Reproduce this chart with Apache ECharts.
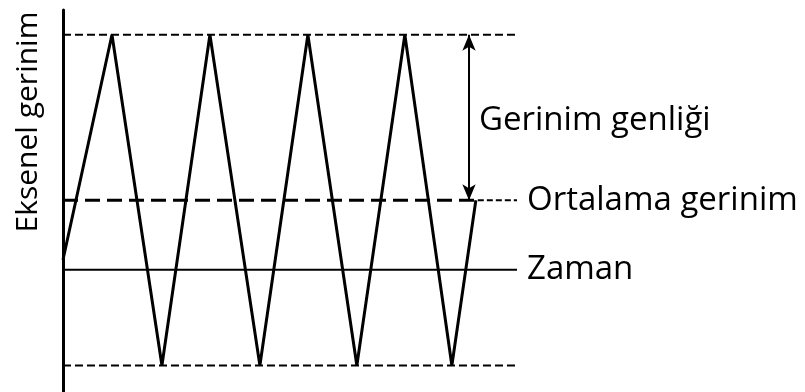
<!DOCTYPE html>
<html>
<head>
<meta charset="utf-8">
<script src="https://cdn.jsdelivr.net/npm/echarts@6/dist/echarts.min.js"></script>
<style>
  html, body { margin: 0; padding: 0; background: #fff; }
  #chart { width: 805px; height: 392px; }
</style>
</head>
<body>
<div id="chart"></div>
<script>
// time in half-periods, strain in units of amplitude (mean = 0)
const timeSteps = [0, 1, 2.02, 3, 4.02, 5, 6, 6.98, 7.94, 8.43];
const strainValues = [-0.36, 1, -1, 1, -1, 1, -1, 1, -1, 0];

const timeEnd = 9.27;
const upperStrain = 1;
const lowerStrain = -1;
const meanStrain = 0;
const timeLineLevel = -0.42;
const meanThickEnd = 8.47;
const arrowTime = 8.29;

const yAxisTitle = 'Eksenel gerinim';
const amplitudeLabel = 'Gerinim genliği';
const meanLabel = 'Ortalama gerinim';
const timeLabel = 'Zaman';

const FONT = 'Open Sans';
const BLACK = '#000';

const wave = timeSteps.map((t, i) => [t, strainValues[i]]);

function hline(level, x0, x1, style, label) {
  return {
    type: 'line',
    data: [[x0, level], [x1, level]],
    symbol: 'none',
    silent: true,
    lineStyle: Object.assign({ color: BLACK }, style),
    endLabel: label ? {
      show: true,
      formatter: label,
      distance: 10,
      color: BLACK,
      fontFamily: FONT,
      fontSize: 33
    } : { show: false }
  };
}

const chart = echarts.init(document.getElementById('chart'), null, { renderer: 'canvas' });
chart.setOption({
  animation: false,
  backgroundColor: '#fff',
  grid: { left: 63, right: 288, top: 10, bottom: 0 },
  xAxis: {
    type: 'value', min: 0, max: timeEnd,
    show: false
  },
  yAxis: {
    type: 'value', min: -1.16, max: 1.15,
    axisLine: { show: true, onZero: false, lineStyle: { color: BLACK, width: 3 } },
    axisTick: { show: false },
    axisLabel: { show: false },
    splitLine: { show: false }
  },
  graphic: [{
    type: 'text',
    x: 28, y: 122,
    rotation: Math.PI / 2,
    style: {
      text: yAxisTitle,
      fill: BLACK,
      font: '30px "Open Sans"',
      align: 'center',
      verticalAlign: 'middle'
    }
  }],
  series: [
    hline(upperStrain, 0, timeEnd, { type: [8, 4], width: 2 }),
    hline(lowerStrain, 0, timeEnd, { type: [8, 4], width: 2 }),
    hline(meanStrain, 0, meanThickEnd, { type: [15, 7], width: 3 }),
    hline(meanStrain, meanThickEnd, timeEnd, { type: [6, 3], width: 2 }, meanLabel),
    hline(timeLineLevel, 0, timeEnd, { type: 'solid', width: 2 }, timeLabel),
    {
      type: 'line',
      data: wave,
      symbol: 'none',
      silent: true,
      lineStyle: { color: BLACK, width: 3 },
      z: 5
    },
    {
      type: 'scatter',
      data: [[arrowTime, (upperStrain + meanStrain) / 2 - 0.02]],
      symbolSize: 0,
      silent: true,
      itemStyle: { opacity: 1, color: BLACK },
      label: {
        show: true,
        position: 'right',
        distance: 10,
        formatter: amplitudeLabel,
        color: BLACK,
        fontFamily: FONT,
        fontSize: 33
      },
      markLine: {
        silent: true,
        symbol: ['arrow', 'arrow'],
        symbolSize: [10, 16],
        label: { show: false },
        lineStyle: { color: BLACK, width: 2, type: 'solid' },
        data: [[{ coord: [arrowTime, upperStrain] }, { coord: [arrowTime, meanStrain] }]]
      }
    }
  ]
});
</script>
</body>
</html>
